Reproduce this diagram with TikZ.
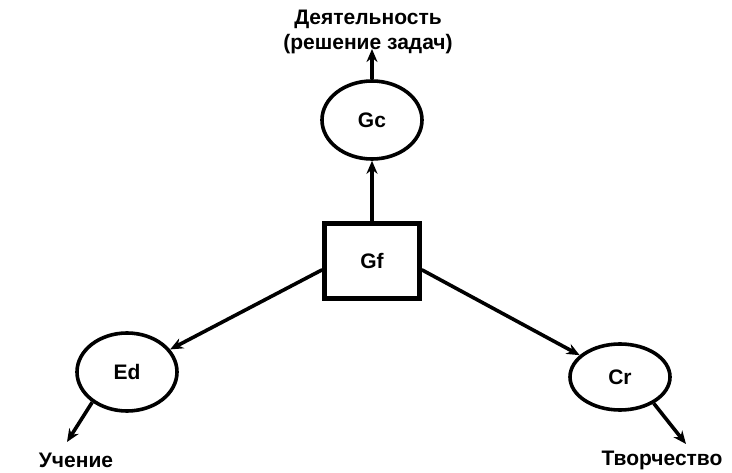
\documentclass[tikz,border=0pt]{standalone}
\usepackage{fontspec}
\setmainfont{Liberation Sans}
\usetikzlibrary{positioning,shapes.geometric,arrows.meta}

\tikzset{
  factor/.style={ellipse,draw,line width=3.6pt,inner sep=0pt,
    minimum width=100pt,minimum height=78pt,font=\fontsize{21}{24}\bfseries},
  general/.style={rectangle,draw,line width=4.6pt,inner sep=0pt,
    minimum width=95pt,minimum height=75pt,font=\fontsize{21}{24}\bfseries},
  outcome/.style={inner sep=0pt,align=center,font=\fontsize{21}{25}\selectfont\bfseries},
  link/.style={-{Stealth[length=13pt,width=11pt]},line width=3.6pt}
}

\begin{document}
\begin{tikzpicture}[x=1pt,y=-1pt]
 \useasboundingbox (0,0) rectangle (732,473);

 \node[general] (Gf) at (372,261) {Gf};
 \node[factor] (Gc) at (372,120) {Gc};
 \node[factor] (Ed) at (127,372) {Ed};
 \node[factor,minimum height=66pt] (Cr) at (620,377) {Cr};

% free ends of the outer arrows
 \coordinate (activityend) at (372,49);
 \coordinate (learningend) at (67,442);
 \coordinate (creativityend) at (686,444);

 \node[outcome] (activity) at (368,32) {Деятельность\\(решение задач)};
 \node[outcome] (learning) at (76,460) {Учение};
 \node[outcome] (creativity) at (662,460) {Творчество};

 \draw [link] (Gf.north) to (Gc.south);
 \draw [link] (Gc.north) to (activityend);
 \draw [link] (Gf.190) to (Ed);
 \draw [link] (Gf.-10) to (Cr);
 \draw [link] (Ed.221) to (learningend);
 \draw [link] (Cr.322) to (creativityend);
\end{tikzpicture}
\end{document}
